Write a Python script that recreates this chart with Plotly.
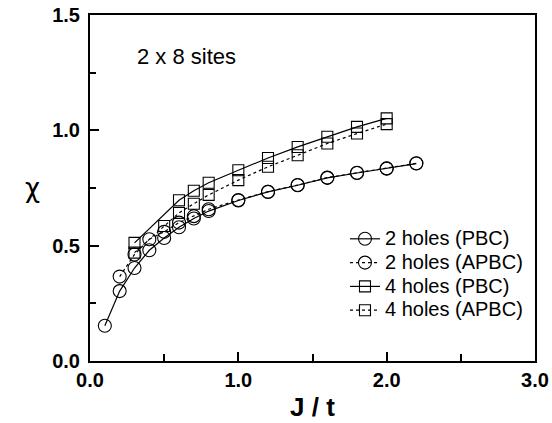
import plotly.graph_objects as go

# 2 holes, periodic boundary conditions
J_2h_pbc = [0.1, 0.2, 0.3, 0.4, 0.5, 0.6, 0.7, 0.8, 1.0, 1.2, 1.4, 1.6, 1.8, 2.0, 2.2]
chi_2h_pbc = [0.153, 0.303, 0.403, 0.480, 0.533, 0.580, 0.618, 0.650, 0.696, 0.733, 0.762, 0.794, 0.815, 0.834, 0.856]

# 2 holes, antiperiodic boundary conditions
J_2h_apbc = [0.2, 0.3, 0.4, 0.5, 0.6, 0.7, 0.8, 1.0, 1.2, 1.4, 1.6, 1.8, 2.0, 2.2]
chi_2h_apbc = [0.366, 0.462, 0.528, 0.560, 0.600, 0.628, 0.658, 0.698, 0.734, 0.763, 0.795, 0.816, 0.835, 0.857]

# 4 holes, periodic boundary conditions
J_4h_pbc = [0.3, 0.6, 0.7, 0.8, 1.0, 1.2, 1.4, 1.6, 1.8, 2.0]
chi_4h_pbc = [0.512, 0.697, 0.738, 0.773, 0.827, 0.880, 0.928, 0.972, 1.015, 1.052]

# 4 holes, antiperiodic boundary conditions
J_4h_apbc = [0.3, 0.5, 0.6, 0.7, 0.8, 1.0, 1.2, 1.4, 1.6, 1.8, 2.0]
chi_4h_apbc = [0.470, 0.585, 0.642, 0.682, 0.720, 0.784, 0.842, 0.892, 0.943, 0.986, 1.027]

x_ticks = [0, 1, 2, 3]
x_ticktext = ["0.0", "1.0", "2.0", "3.0"]
y_ticks = [0, 0.5, 1.0, 1.5]
y_ticktext = ["0.0", "0.5", "1.0", "1.5"]

FONT = "Liberation Sans, Arial, sans-serif"

fig = go.Figure()

def add(x, y, name, symbol, size, dash):
    fig.add_trace(go.Scatter(
        x=x, y=y, mode="lines+markers",
        name='<span style="font-size:20px">' + name + "</span>",
        line=dict(color="black", width=1.2, dash=dash),
        marker=dict(symbol=symbol, size=size, color="black",
                    line=dict(color="black", width=1.1)),
    ))

add(J_2h_pbc, chi_2h_pbc, "2 holes (PBC)", "circle-open", 13, "solid")
add(J_2h_apbc, chi_2h_apbc, "2 holes (APBC)", "circle-open", 13, "dot")
add(J_4h_pbc, chi_4h_pbc, "4 holes (PBC)", "square-open", 11, "solid")
add(J_4h_apbc, chi_4h_apbc, "4 holes (APBC)", "square-open", 11, "dot")

axis_common = dict(
    showline=True, linecolor="black", linewidth=2, mirror=True,
    ticks="inside", tickcolor="black", tickwidth=1.5, ticklen=9,
    showgrid=False, zeroline=False, automargin=False,
    tickfont=dict(family=FONT, size=20, color="black", weight="bold"),
)

fig.update_xaxes(
    range=[0, 3], tickvals=x_ticks, ticktext=x_ticktext,
    minor=dict(ticks="inside", dtick=0.5, ticklen=7, tickcolor="black", tickwidth=1.5),
    title=dict(text="J / t", font=dict(family=FONT, size=26, color="black", weight="bold"), standoff=8),
    **axis_common,
)
fig.update_yaxes(
    range=[0, 1.5], tickvals=y_ticks, ticktext=y_ticktext,
    minor=dict(ticks="inside", dtick=0.25, ticklen=6, tickcolor="black", tickwidth=1.5),
    ticklabelstandoff=4,
    **axis_common,
)

fig.add_annotation(
    text="χ", xref="paper", yref="paper", x=-0.15, y=0.5,
    showarrow=False, font=dict(family="DejaVu Sans, sans-serif", size=26, color="black"),
)
fig.add_annotation(
    text="2 x 8 sites", xref="paper", yref="paper", x=0.1, y=0.879,
    xanchor="left", yanchor="middle", showarrow=False,
    font=dict(family=FONT, size=22, color="black"),
)

fig.update_layout(
    width=552, height=423,
    margin=dict(l=90, r=17, t=15, b=62),
    plot_bgcolor="white", paper_bgcolor="white",
    showlegend=True,
    legend=dict(
        x=0.573, y=0.402, xanchor="left", yanchor="top",
        bgcolor="rgba(0,0,0,0)", borderwidth=0,
        font=dict(family=FONT, size=16, color="black"),
        tracegroupgap=0, itemwidth=30,
    ),
)

fig.write_html("out.html")
